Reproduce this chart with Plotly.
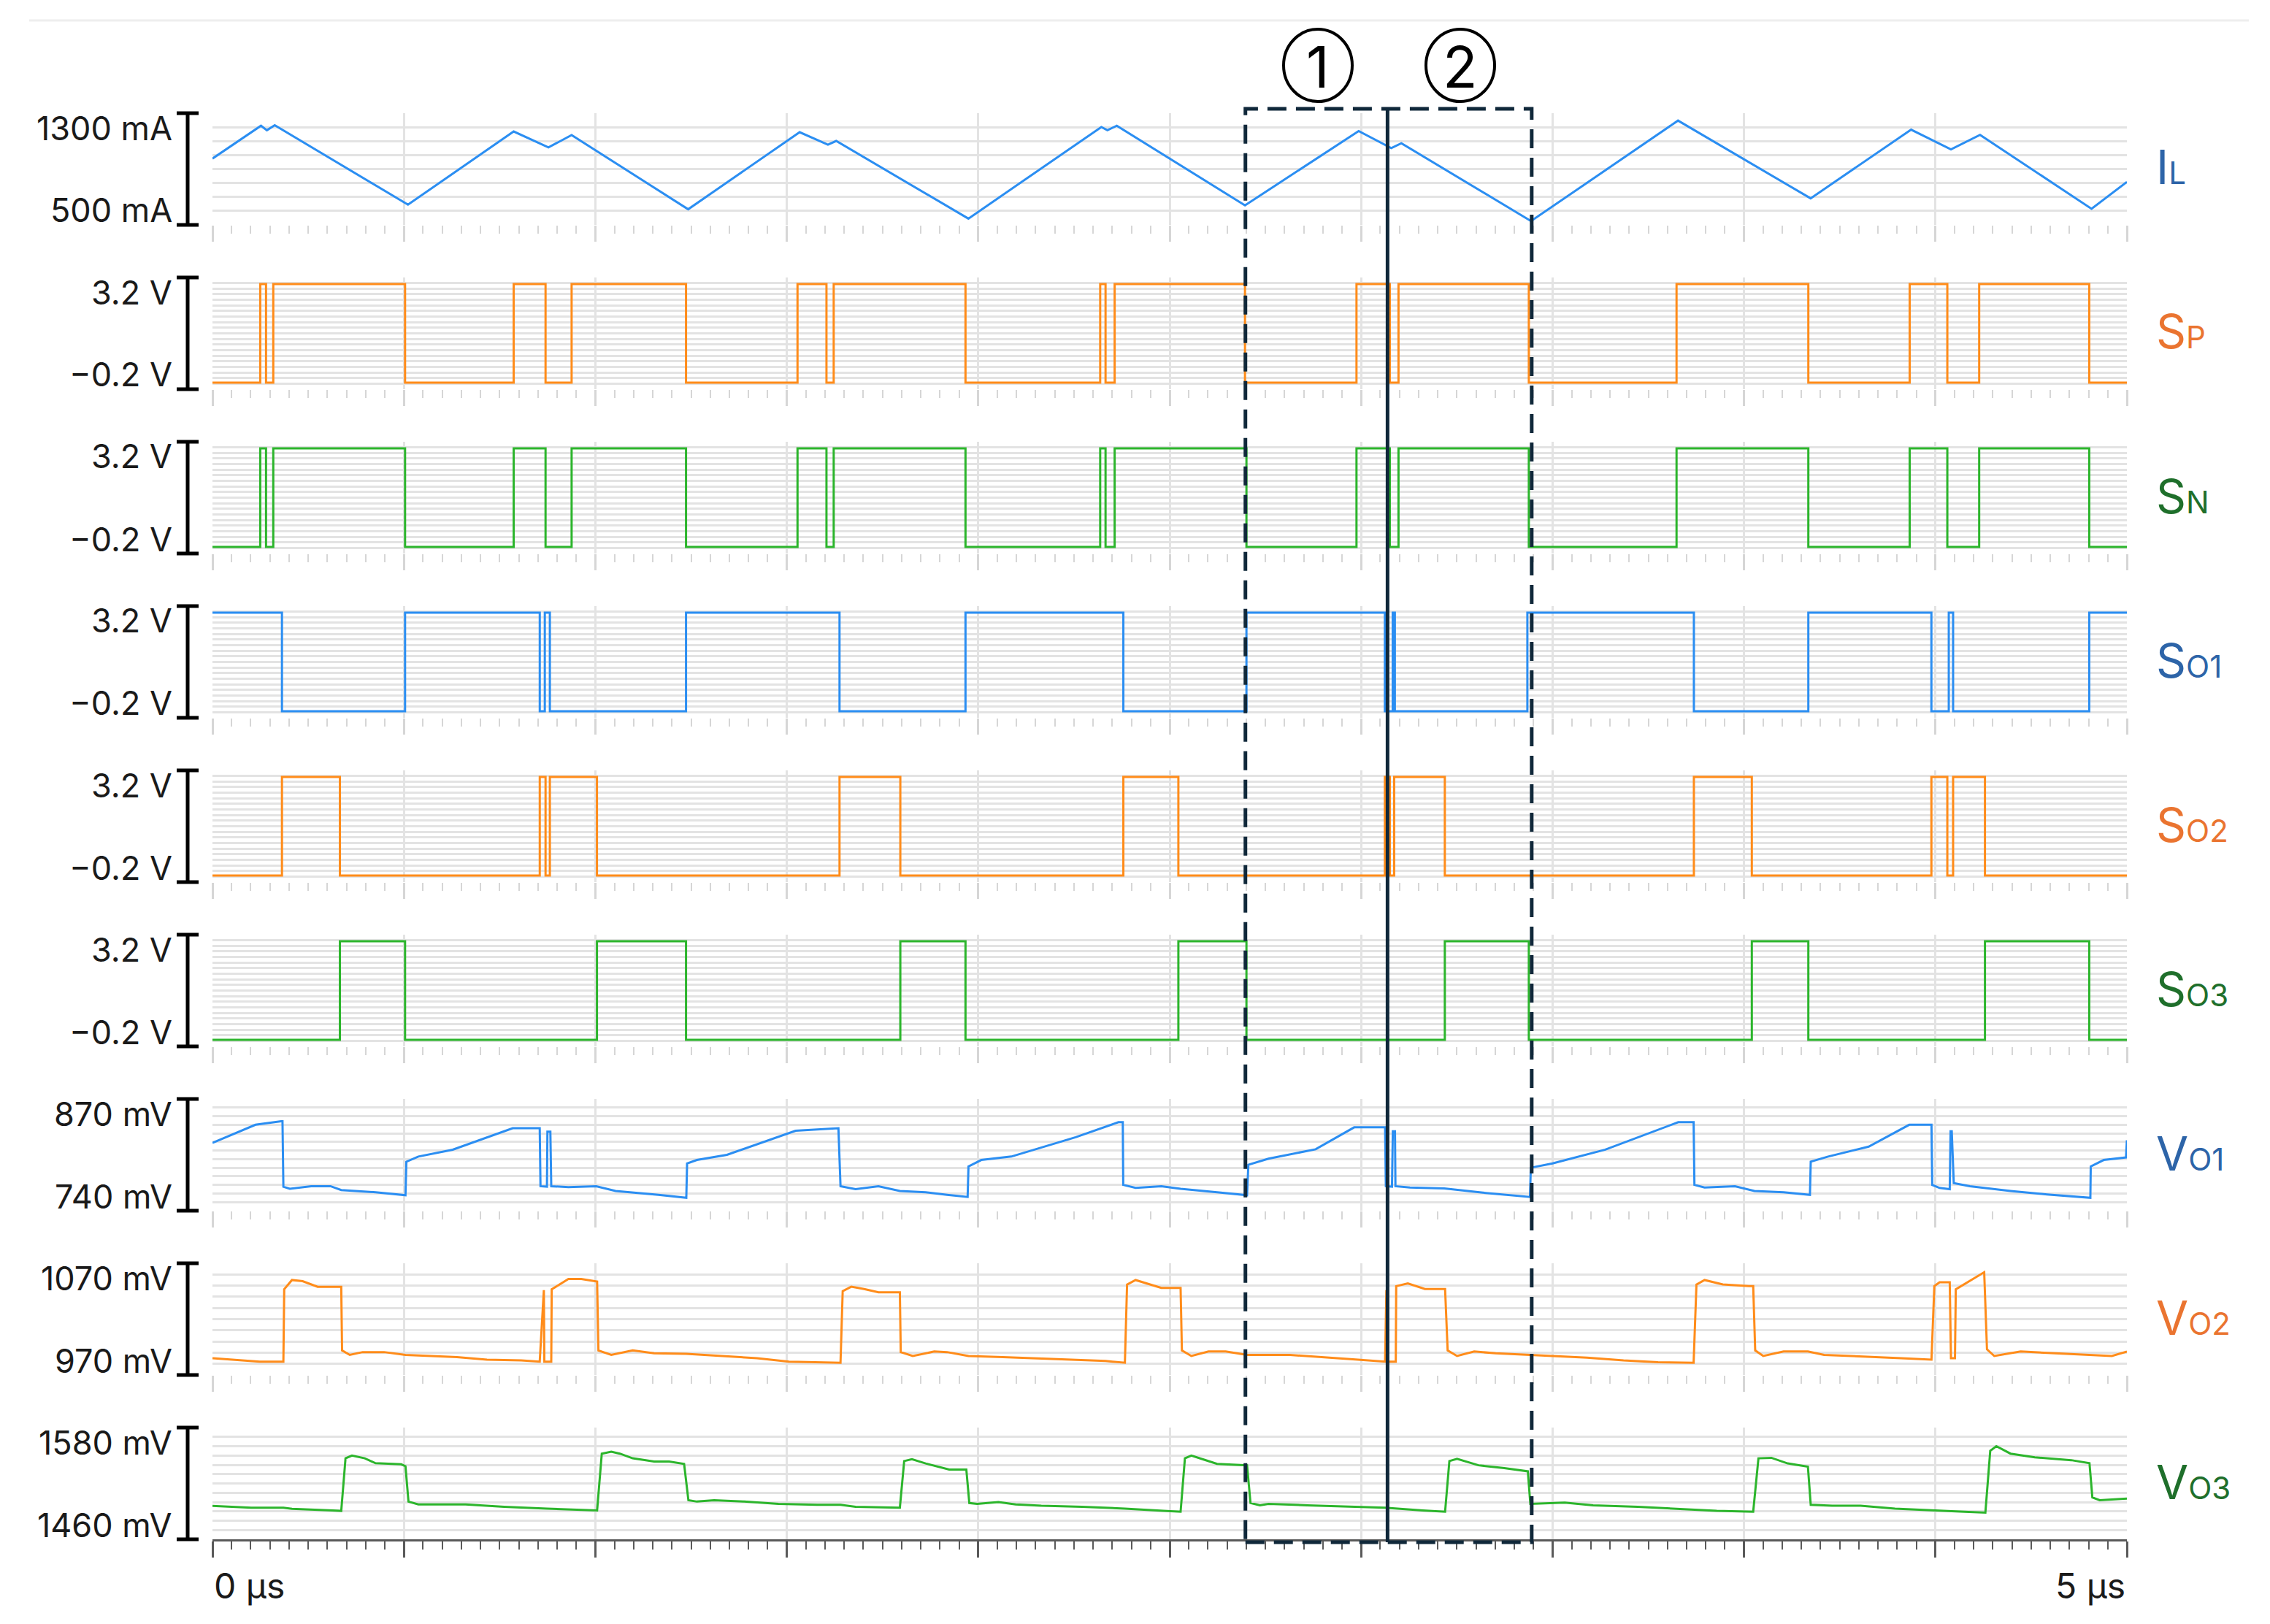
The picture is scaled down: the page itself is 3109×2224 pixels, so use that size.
import plotly.graph_objects as go

# ---------------- data (time in µs) ----------------
il_t = [0, 0.1267, 0.1422, 0.1626, 0.5106, 0.7867, 0.8775, 0.938, 1.2424, 1.5336, 1.6074, 1.629,
        1.9743, 2.3215, 2.3374, 2.3619, 2.6967, 2.9936, 3.0787, 3.1051, 3.4437, 3.8276, 4.174,
        4.4365, 4.5405, 4.6165, 4.9077, 5.0]
il_ma = [975, 1210, 1178, 1214, 645, 1169, 1055, 1143, 612, 1164, 1074, 1101,
         545, 1201, 1178, 1210, 640, 1172, 1050, 1085, 527, 1247, 690,
         1182, 1041, 1145, 615, 808]

# switching signals: edge times, starting level
sw_levels = [0.0, 3.0]   # low / high in V
sp_edges = [0.1248, 0.1399, 0.1588, 0.503, 0.7867, 0.8699, 0.938, 1.2368, 1.528, 1.6036, 1.6225,
            1.9667, 2.3185, 2.3325, 2.3563, 2.6967, 2.9879, 3.0749, 3.0976, 3.438, 3.8238, 4.168,
            4.4327, 4.531, 4.6142, 4.9017]
sn_edges = [0.1248, 0.1399, 0.1588, 0.503, 0.7867, 0.8699, 0.938, 1.2368, 1.528, 1.6036, 1.6225,
            1.9667, 2.3185, 2.3325, 2.3563, 2.7005, 2.9879, 3.0749, 3.0976, 3.438, 3.8238, 4.168,
            4.4327, 4.531, 4.6142, 4.9017]
so1_edges = [0.1815, 0.503, 0.8548, 0.868, 0.8812, 1.2368, 1.6377, 1.9667, 2.379, 2.7005, 3.062,
             3.0825, 3.0881, 3.4342, 3.8691, 4.168, 4.4894, 4.5348, 4.5461, 4.9017]
so2_edges = [0.1815, 0.3328, 0.8548, 0.8699, 0.8812, 1.0042, 1.6377, 1.7965, 2.379, 2.5227, 3.062,
             3.0749, 3.0863, 3.2186, 3.8691, 4.0204, 4.4894, 4.531, 4.5461, 4.6293]
so3_edges = [0.3328, 0.503, 1.0042, 1.2368, 1.7965, 1.9667, 2.5227, 2.7005, 3.2186, 3.438, 4.0204,
             4.168, 4.6293, 4.9017]
sw_start = {'sp': 0, 'sn': 0, 'so1': 1, 'so2': 0, 'so3': 0}

vo1_t = [0, 0.1124, 0.1795, 0.1829, 0.1852, 0.202, 0.2579, 0.3082, 0.3363, 0.4259, 0.5041,
         0.5064, 0.5377, 0.6273, 0.7841, 0.8547,
         0.8567, 0.8736, 0.8748, 0.8825, 0.8848, 0.9296, 1.0023, 1.0528, 1.1646, 1.2375,
         1.2396, 1.2653, 1.3437, 1.5228, 1.6348,
         1.6403, 1.6796, 1.7394, 1.7953, 1.8625, 1.9186, 1.9723,
         1.9745, 2.008, 2.0864, 2.2544, 2.3662, 2.3775,
         2.3787, 2.411, 2.4782, 2.5285, 2.6237, 2.7021,
         2.7055, 2.7581, 2.8812, 2.9819, 3.0626,
         3.0646, 3.0806, 3.0828, 3.0884, 3.0896, 3.1275, 3.2171, 3.3178, 3.441,
         3.4432, 3.5, 3.6376, 3.8282, 3.8684,
         3.8705, 3.897, 3.9764, 4.0271, 4.1033, 4.1722,
         4.1743, 4.2197, 4.3256, 4.4315, 4.4896,
         4.4916, 4.5108, 4.5373, 4.5395, 4.5426, 4.5478, 4.5901, 4.696, 4.7913, 4.8972, 4.9046,
         4.9056, 4.9395, 4.9977, 5.0]
vo1_mv = [819, 840, 844, 844, 768, 765.5, 768.5, 768.5, 764, 761.5, 758,
          797, 803, 811, 836, 836,
          768.5, 768, 832, 832, 768.5, 767.5, 768.5, 763, 758.5, 755,
          795, 799, 805, 833, 836,
          768.5, 765, 768.5, 763, 761.5, 758.5, 756,
          791.5, 799, 803, 825.5, 843, 843,
          770, 766.5, 768.5, 765.5, 761.5, 758,
          793.5, 800.5, 811.5, 837, 837,
          768.5, 768, 832.5, 832.5, 768.5, 767, 766, 761, 756,
          790, 795, 811, 843, 843,
          770, 767, 768.5, 763, 761.5, 758.5,
          797, 803, 814.5, 840, 840,
          770, 766.5, 765, 832.5, 832.5, 772, 768.5, 763, 759, 755, 755,
          791.5, 799, 802, 822]

vo2_t = [0, 0.1236, 0.1852,
         0.1874, 0.2076, 0.2355, 0.2747, 0.3363,
         0.3385, 0.3586, 0.3923, 0.4482, 0.5041, 0.6386, 0.7169, 0.8064, 0.8547,
         0.8655, 0.8668, 0.8848,
         0.886, 0.9296, 0.9632, 1.0046,
         1.008, 1.0416, 1.0975, 1.1534, 1.2375, 1.3214, 1.4221, 1.506, 1.6403,
         1.646, 1.6683, 1.7019, 1.7394, 1.7953,
         1.7976, 1.829, 1.885, 1.9186, 1.9745, 2.0641, 2.1425, 2.2432, 2.3327, 2.383,
         2.3887, 2.411, 2.4782, 2.5285,
         2.5319, 2.5566, 2.6014, 2.6462, 2.7021, 2.814, 2.9092, 2.9987, 3.0626,
         3.066, 3.0671, 3.0905,
         3.0916, 3.1219, 3.1667, 3.2193,
         3.226, 3.2506, 3.2954, 3.3513, 3.441, 3.5, 3.59, 3.6853, 3.7753, 3.8684,
         3.8758, 3.897, 3.9447, 4.0134, 4.024,
         4.0292, 4.0503, 4.1033, 4.1669, 4.2092, 4.3256, 4.4103, 4.4896,
         4.4971, 4.5108, 4.5373,
         4.5405, 4.551,
         4.5531, 4.6273,
         4.6346, 4.6537, 4.7225, 4.7807, 4.8707, 4.9607, 5.0]
vo2_mv = [985, 982, 982,
          1046.7, 1055, 1054, 1049, 1049,
          992, 988, 990.5, 990.5, 988, 986, 983.7, 983, 982,
          1046, 982, 982,
          1046.7, 1056, 1056, 1053.6,
          992, 988, 992, 989.5, 989, 987, 985, 982, 981,
          1045, 1049, 1047, 1044, 1044,
          990.5, 987, 991, 990.5, 987, 986, 985, 983.5, 982.5, 981,
          1051, 1055, 1048, 1048,
          992, 987, 991, 991, 988, 988, 985.5, 983.5, 982,
          1046, 982, 982,
          1049.5, 1052, 1047, 1047,
          992, 987, 991, 989.5, 988, 987, 985.5, 983, 981.5, 981,
          1051, 1055, 1051, 1049.5, 1049.5,
          992, 987, 991, 991, 988, 986.5, 985, 983.7,
          1049.5, 1053, 1053,
          985, 985,
          1046.7, 1062,
          993, 987, 991, 990, 988.5, 987, 991]

vo3_t = [0, 0.1012, 0.1852, 0.2076, 0.3139, 0.3363,
         0.3475, 0.3643, 0.3979, 0.4259, 0.493, 0.5041,
         0.5119, 0.5377, 0.6609, 0.7616, 0.8736, 0.9665, 1.0046,
         1.0168, 1.0416, 1.0639, 1.0975, 1.1534, 1.1926, 1.2318,
         1.243, 1.2653, 1.3101, 1.3885, 1.4782, 1.5789, 1.6403, 1.6796, 1.7953,
         1.8066, 1.8268, 1.8625, 1.9241, 1.9689,
         1.9767, 1.997, 2.0528, 2.0977, 2.1648, 2.2712, 2.383, 2.4839, 2.5285,
         2.5398, 2.5566, 2.5901, 2.6237, 2.7021,
         2.7111, 2.7357, 2.7581, 2.8589, 2.9596, 3.0626, 3.161, 3.2193,
         3.2305, 3.2506, 3.3065, 3.3738, 3.4354,
         3.442, 3.5317, 3.606, 3.7223, 3.8282, 3.9287, 4.024,
         4.0377, 4.0715, 4.1139, 4.1669,
         4.1743, 4.2304, 4.3044, 4.3944, 4.4896, 4.5531, 4.6304,
         4.6431, 4.659, 4.696, 4.7595, 4.8548, 4.9023,
         4.9098, 4.9289, 5.0]
vo3_mv = [1495.8, 1494, 1494, 1492.7, 1491, 1490.5,
          1547, 1550, 1547, 1541.7, 1540.5, 1538.5,
          1500.5, 1497.4, 1497.4, 1495, 1493, 1492, 1491,
          1552, 1554, 1552, 1547, 1543.5, 1543.5, 1541,
          1502, 1500.5, 1502, 1500.5, 1498, 1497, 1497, 1495, 1494,
          1544, 1546, 1541.5, 1535, 1535,
          1499, 1498, 1500, 1497.5, 1496, 1495, 1493, 1490.5, 1489.6,
          1547, 1550, 1545.5, 1541, 1539.5,
          1499, 1496.5, 1498, 1496.5, 1495, 1494, 1491, 1489.6,
          1544, 1546.5, 1539.5, 1536.5, 1533,
          1498, 1499.5, 1496.5, 1495, 1492.7, 1490.5, 1489.6,
          1547, 1547.5, 1541.5, 1538,
          1497, 1496, 1496, 1493, 1491, 1490, 1488.7,
          1555, 1560, 1552, 1548, 1545, 1541.7,
          1505, 1502, 1503.7]

range_labels = [('1300 mA', '500 mA'), ('3.2 V', '−0.2 V'), ('3.2 V', '−0.2 V'), ('3.2 V', '−0.2 V'),
                ('3.2 V', '−0.2 V'), ('3.2 V', '−0.2 V'), ('870 mV', '740 mV'), ('1070 mV', '970 mV'),
                ('1580 mV', '1460 mV')]
y_ranges = [(500, 1300), (-0.2, 3.2), (-0.2, 3.2), (-0.2, 3.2), (-0.2, 3.2), (-0.2, 3.2),
            (740, 870), (970, 1070), (1460, 1580)]
y_dticks = [100, 0.17, 0.17, 0.17, 0.17, 0.17, 10, 10, 10]
names = [('I', 'L'), ('S', 'P'), ('S', 'N'), ('S', 'O1'), ('S', 'O2'), ('S', 'O3'),
         ('V', 'O1'), ('V', 'O2'), ('V', 'O3')]

# ---------------- styling ----------------
W, H = 3109, 2224
BLUE, ORANGE, GREEN = '#2b8ef2', '#ff8c1a', '#2cb52c'
LBL_BLUE, LBL_ORANGE, LBL_GREEN = '#2d64a8', '#ea7430', '#1f6f2b'
trace_colors = [BLUE, ORANGE, GREEN, BLUE, ORANGE, GREEN, BLUE, ORANGE, GREEN]
label_colors = [LBL_BLUE, LBL_ORANGE, LBL_GREEN, LBL_BLUE, LBL_ORANGE, LBL_GREEN,
                LBL_BLUE, LBL_ORANGE, LBL_GREEN]
FONT = 'Inter, Liberation Sans, Arial, sans-serif'
X0, X1 = 291, 2913          # plot area, px
TOP0, STEP, PH = 155, 225, 153
GRID = '#e3e3e3'
BOX = '#10283a'


def step_series(edges, start):
    xs = [0] + edges + [5]
    lvl = start
    ys = [sw_levels[lvl]]
    for _ in edges:
        lvl = 1 - lvl
        ys.append(sw_levels[lvl])
    ys.append(sw_levels[lvl])
    return xs, ys


series = [
    (il_t, il_ma, 'linear'),
    (*step_series(sp_edges, sw_start['sp']), 'hv'),
    (*step_series(sn_edges, sw_start['sn']), 'hv'),
    (*step_series(so1_edges, sw_start['so1']), 'hv'),
    (*step_series(so2_edges, sw_start['so2']), 'hv'),
    (*step_series(so3_edges, sw_start['so3']), 'hv'),
    (vo1_t, vo1_mv, 'linear'),
    (vo2_t, vo2_mv, 'linear'),
    (vo3_t, vo3_mv, 'linear'),
]

fig = go.Figure()
layout = {}
shapes = []
annotations = []

for i, (xs, ys, shape) in enumerate(series):
    n = i + 1
    suf = '' if n == 1 else str(n)
    fig.add_trace(go.Scatter(
        x=xs, y=ys, mode='lines',
        line=dict(color=trace_colors[i], width=3, shape=shape),
        xaxis='x' + suf, yaxis='y' + suf,
        hoverinfo='skip', showlegend=False
    ))
    top = TOP0 + i * STEP
    bot = top + PH
    last = (i == len(series) - 1)
    tick_col = '#5a5a5a' if last else '#d6d6d6'
    layout['xaxis' + suf] = dict(
        domain=[X0 / W, X1 / W], anchor='y' + suf, range=[0, 5],
        showgrid=True, gridcolor=GRID, gridwidth=3, dtick=0.5, tick0=0,
        ticks='outside', ticklen=22, tickwidth=3, tickcolor=tick_col,
        minor=dict(dtick=0.05, ticks='outside', ticklen=11, tickwidth=2,
                   tickcolor=tick_col, showgrid=False),
        showticklabels=False, zeroline=False,
        showline=last, linecolor='#5a5a5a', linewidth=3,
        fixedrange=True
    )
    lo, hi = y_ranges[i]
    layout['yaxis' + suf] = dict(
        domain=[1 - bot / H, 1 - top / H], anchor='x' + suf, range=[lo, hi],
        showgrid=True, gridcolor=GRID, gridwidth=3, dtick=y_dticks[i], tick0=lo,
        showticklabels=False, zeroline=False, ticks='', showline=False,
        fixedrange=True
    )

    # range bracket on the left
    for (xa, ya, xb, yb) in [(257, top, 257, bot), (242, top, 272, top), (242, bot, 272, bot)]:
        shapes.append(dict(type='line', xref='paper', yref='paper',
                           x0=xa / W, y0=1 - ya / H, x1=xb / W, y1=1 - yb / H,
                           line=dict(color='black', width=5)))
    hi_lbl, lo_lbl = range_labels[i]
    annotations.append(dict(text=hi_lbl, xref='paper', yref='paper', x=238 / W, y=1 - (top + 20) / H,
                            xanchor='right', yanchor='middle', showarrow=False,
                            font=dict(size=45, color='#1a1a1a', family=FONT)))
    annotations.append(dict(text=lo_lbl, xref='paper', yref='paper', x=238 / W, y=1 - (bot - 20) / H,
                            xanchor='right', yanchor='middle', showarrow=False,
                            font=dict(size=45, color='#1a1a1a', family=FONT)))

    # signal name on the right
    main, sub = names[i]
    annotations.append(dict(text=f"{main}<span style='font-size:42px'>{sub}</span>",
                            xref='paper', yref='paper', x=2951 / W, y=1 - (top + 74) / H,
                            xanchor='left', yanchor='middle', showarrow=False,
                            font=dict(size=64, color=label_colors[i], family=FONT)))

# time labels
annotations.append(dict(text='0 µs', xref='paper', yref='paper', x=X0 / W, y=1 - 2171 / H,
                        xanchor='left', yanchor='middle', showarrow=False,
                        font=dict(size=48, color='#1a1a1a', family=FONT)))
annotations.append(dict(text='5 µs', xref='paper', yref='paper', x=X1 / W, y=1 - 2171 / H,
                        xanchor='right', yanchor='middle', showarrow=False,
                        font=dict(size=48, color='#1a1a1a', family=FONT)))

# interval boxes 1 and 2
box_left, box_mid, box_right = 2.6978, 3.069, 3.4455
box_top, box_bot = 1 - 149 / H, 1 - 2112 / H
shapes.append(dict(type='rect', xref='x', yref='paper', x0=box_left, x1=box_right,
                   y0=box_bot, y1=box_top, line=dict(color=BOX, width=5, dash='26px,13px'),
                   fillcolor='rgba(0,0,0,0)'))
shapes.append(dict(type='line', xref='x', yref='paper', x0=box_mid, x1=box_mid,
                   y0=box_bot, y1=box_top, line=dict(color=BOX, width=5)))

for num, cx in [('1', 1805), ('2', 2000)]:
    shapes.append(dict(type='circle', xref='paper', yref='paper',
                       x0=(cx - 47) / W, x1=(cx + 47) / W, y0=1 - 139 / H, y1=1 - 40 / H,
                       line=dict(color='black', width=4)))
    annotations.append(dict(text=num, xref='paper', yref='paper', x=cx / W, y=1 - 91 / H,
                            xanchor='center', yanchor='middle', showarrow=False,
                            font=dict(size=78, color='black', family=FONT)))

# faint separator at the top
shapes.append(dict(type='line', xref='paper', yref='paper', x0=40 / W, x1=3080 / W,
                   y0=1 - 28 / H, y1=1 - 28 / H, line=dict(color='#eeeeee', width=3)))

fig.update_layout(
    width=W, height=H,
    margin=dict(l=0, r=0, t=0, b=0),
    paper_bgcolor='white', plot_bgcolor='white',
    font=dict(family=FONT),
    shapes=shapes, annotations=annotations,
    **layout
)

fig.write_html("out.html", config={'displayModeBar': False},
               post_script="document.body.style.margin='0px';")
